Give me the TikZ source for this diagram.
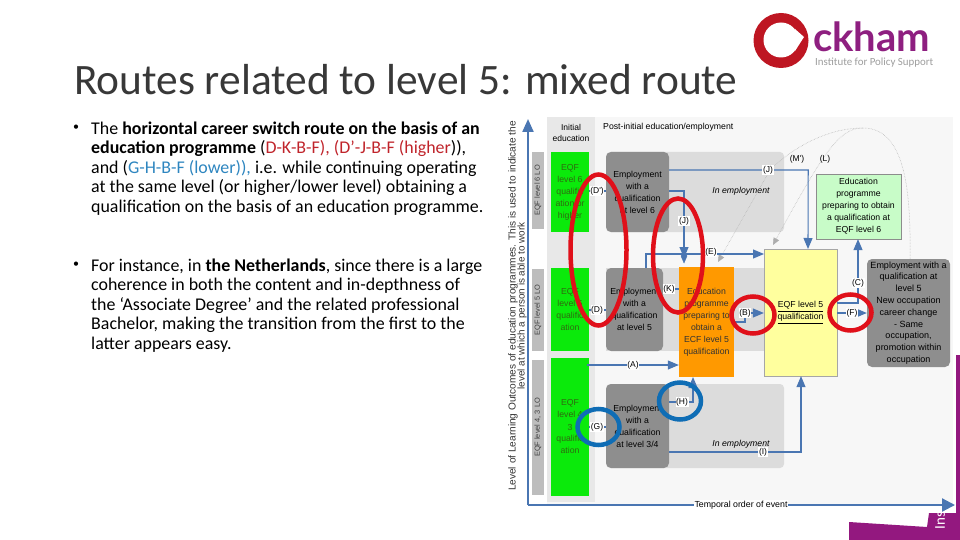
\documentclass[tikz,border=0pt]{standalone}
\usepackage{fontspec}
\setmainfont{Carlito}
\newfontfamily\dgfont{Liberation Sans}
\newfontfamily\logofont{Lato}
\usetikzlibrary{arrows.meta}
\definecolor{axisblue}{HTML}{4A76B2}
\definecolor{bandgrey}{HTML}{DCDCDC}
\definecolor{boxgrey}{HTML}{8E8E8E}
\definecolor{colgrey}{HTML}{E8E8E8}
\definecolor{lblgrey}{HTML}{BDBDBD}
\definecolor{eqfgreen}{HTML}{0BEA0B}
\definecolor{eqftext}{HTML}{2F6A10}
\definecolor{paleyellow}{HTML}{FFFF9E}
\definecolor{palegreen}{HTML}{C8FCC8}
\definecolor{progorange}{HTML}{FF9900}
\definecolor{routered}{HTML}{E0101A}
\definecolor{routeblue}{HTML}{0F6DB5}
\definecolor{txtred}{HTML}{C0242B}
\definecolor{txtblue}{HTML}{2E86C0}
\definecolor{ockred}{HTML}{BE1622}
\definecolor{ockpurple}{HTML}{8E1F80}
\definecolor{slidepurple}{HTML}{93187F}
\tikzset{
  boxbase/.style={inner sep=0pt,align=center,font=\dgfont\fontsize{8.7}{12}\selectfont},
  bandbox/.style={boxbase,fill=bandgrey,rounded corners=4pt},
  empbox/.style={boxbase,fill=boxgrey,rounded corners=5pt,text=black},
  eqfbox/.style={boxbase,fill=eqfgreen,text=eqftext,minimum width=38pt},
  lvlbox/.style={boxbase,fill=lblgrey,minimum width=12pt,text=black!75,font=\dgfont\fontsize{7.4}{8}\selectfont},
  conn/.style={draw=axisblue,line width=1.1pt,-{Triangle[length=11pt,width=9pt]}},
  plain/.style={draw=axisblue,line width=1.1pt},
  dotconn/.style={draw=black!32,densely dotted,line width=.5pt},
  lab/.style={fill=white,inner sep=.6pt,font=\dgfont\fontsize{8.5}{9}\selectfont},
  ring/.style={line width=4.5pt},
  body/.style={anchor=north west,inner sep=0pt,align=left,font=\fontsize{17.9}{19.55}\selectfont},
  bullet/.style={inner sep=0pt,font=\fontsize{12}{12}\selectfont}
}
\begin{document}
\begin{tikzpicture}[x=1pt,y=-1pt]
\useasboundingbox[fill=white] (0,0) rectangle (960,540);
% slide furniture
\fill[slidepurple] (956,355) -- (960,355) -- (960,540) -- (849,540) -- (849,522) -- (927,527) -- (929,513) -- (956,513) -- cycle;
\node[rotate=90,text=white,inner sep=0pt,font=\fontsize{15}{15}\selectfont] (ins) at (940,520.5) {Ins};
% title and text
\node[anchor=west,inner sep=0pt,font=\fontsize{43.4}{45}\selectfont,text=black!78] (title) at (74,80) {Routes related to level 5: mixed route};
\node[bullet] (b1) at (76,128) {•};
\node[body] (p1) at (91,121.5) {The \textbf{horizontal career switch route on the basis of an}\\
\textbf{education programme} ({\color{txtred}D-K-B-F), (D’-J-B-F (higher}{\color{black})),}\\
and ({\color{txtblue}G-H-B-F (lower)),} i.e. while continuing operating\\
at the same level (or higher/lower level) obtaining a\\
qualification on the basis of an education programme.};
\node[bullet] (b2) at (76,265) {•};
\node[body] (p2) at (91,258.5) {For instance, in \textbf{the Netherlands}, since there is a large\\
coherence in both the content and in-depthness of\\
the ‘Associate Degree’ and the related professional\\
Bachelor, making the transition from the first to the\\
latter appears easy.};
% logo
\fill[ockred] (781,40.5) circle [radius=27.5];
\fill[white] (781,40) circle [radius=17.5];
\fill[white] (804,37) -- (795,29) -- (795,51) -- cycle;
\node[anchor=base west,inner sep=0pt,text=ockpurple,font=\logofont\bfseries\fontsize{40}{40}\selectfont] (ckham) at (813,52) {ckham};
\node[anchor=base west,inner sep=0pt,text=black!38,font=\fontsize{10.9}{12}\selectfont] (ips) at (815,65.5) {Institute for Policy Support};
% diagram backgrounds
\fill[black!3] (547,117) rectangle (953,505);
\node[fill=colgrey,minimum width=48pt,minimum height=385pt,inner sep=0pt] (initcol) at (571,309.5) {};
\node[inner sep=0pt,align=center,font=\dgfont\fontsize{8.5}{11.5}\selectfont] (inittxt) at (571,133) {Initial\\education};
\node[anchor=west,inner sep=0pt,font=\dgfont\fontsize{8.7}{9}\selectfont] (posttxt) at (603,127) {Post-initial education/employment};
\node[bandbox,minimum width=178pt,minimum height=80pt] (band6) at (695,192) {};
\node[bandbox,rounded corners=0pt,minimum width=158pt,minimum height=83pt] (band5) at (685,309) {};
\node[bandbox,minimum width=178pt,minimum height=84pt] (band4) at (695,426) {};
% level labels
\node[lvlbox,minimum height=77pt] (l6) at (538,190.5) {\rotatebox{90}{EQF level 6 LO}};
\node[lvlbox,minimum height=82pt] (l5) at (538,310) {\rotatebox{90}{EQF level 5 LO}};
\node[lvlbox,minimum height=135pt] (l4) at (538,427.5) {\rotatebox{90}{EQF level 4, 3 LO}};
% green boxes
\node[eqfbox,minimum height=80pt] (g6) at (570,192) {EQF\\level 6\\qualific\\ation or\\higher};
\node[eqfbox,minimum height=83pt] (g5) at (570,309.5) {EQF\\level 5\\qualific\\ation};
\node[eqfbox,minimum height=138pt] (g4) at (570,427) {EQF\\level 4\\3\\qualific\\ation};
% employment boxes
\node[empbox,minimum width=63pt,minimum height=80pt] (e6) at (637.5,192) {Employment\\with a\\qualification\\at level 6};
\node[empbox,minimum width=57pt,minimum height=83pt] (e5) at (634.5,309.5) {Employment\\with a\\qualification\\at level 5};
\node[empbox,minimum width=63pt,minimum height=84pt] (e4) at (637.5,426) {Employment\\with a\\qualification\\at level 3/4};
\node[boxbase,fill=progorange,minimum width=55pt,minimum height=110pt,text=black!80] (prog) at (706.5,322) {Education\\programme\\preparing to\\obtain a\\ECF level 5\\qualification};
\node[boxbase,fill=paleyellow,draw=black!35,line width=.3pt,minimum width=73pt,minimum height=127pt] (yel) at (800.5,312.5) {\underline{EQF level 5}\\\underline{qualification}};
\node[boxbase,fill=palegreen,draw=black!45,line width=.3pt,minimum width=85pt,minimum height=65pt] (edu6) at (858.5,206.5) {Education\\programme\\preparing to obtain\\a qualification at\\EQF level 6};
\node[empbox,minimum width=83pt,minimum height=108pt,font=\dgfont\fontsize{9}{11.8}\selectfont] (e5r) at (908.5,313) {Employment with a\\qualification at\\level 5\\New occupation\\career change\\- Same\\occupation,\\promotion within\\occupation};
\node[inner sep=0pt,font=\dgfont\itshape\fontsize{8.7}{9}\selectfont] (inemp1) at (741,191) {In employment};
\node[inner sep=0pt,font=\dgfont\itshape\fontsize{8.7}{9}\selectfont] (inemp2) at (741,444) {In employment};
% dotted routes
\coordinate (dtop) at (863,128);
\draw[dotconn,-{Triangle[length=7pt,width=6pt]}] ([xshift=1.5pt]e5r.north) .. controls (911,190) and (905,128) .. (dtop) .. controls (825,128) and (790,150) .. (770,170) -- (718,262);
\draw[dotconn] (dtop) .. controls (840,128) and (825,150) .. (780,232);
\draw[dotconn,-{Triangle[length=7pt,width=6pt]}] (780,232) -- (773,245);
% connectors
\draw[conn] ([yshift=22pt]e6.east) -- ++(139,0) -- (808,249);
\draw[conn] ([yshift=1pt]e6.east) -- (684,191) -- (684,258);
\draw[draw=axisblue,fill=axisblue] (684,250) -- (681,256) -- (684,263) -- (687,256) -- cycle;
\draw[conn] (646,268) -- (646,254) -- (764,254);
\draw[plain] (e5.east |- 0,289) -- (prog.west |- 0,289);
\draw[plain] (g6.east |- 0,191) -- (e6.west |- 0,191);
\draw[plain] (g5.east |- 0,310) -- (e5.west |- 0,310);
\draw[plain] (g4.east |- 0,427) -- (e4.west |- 0,427);
\draw[conn] (587,365) -- (prog.west |- 0,365);
\draw[conn] (e4.east |- 0,402) -- (693,402) -- (693,377);
\draw[conn] (e4.east |- 0,452) -- (801,452) -- (yel.south -| 801,0);
\draw[conn] (prog.east |- 0,322) -- (745,322) -- (745,313) -- (yel.west |- 0,313);
\draw[conn] (yel.east |- 0,303) -- (858,303) -- (edu6.south -| 858,0);
\draw[conn] (yel.east |- 0,313) -- (e5r.west |- 0,313);
% axes
\draw[draw=axisblue,line width=2.2pt,-{Triangle[length=13pt,width=11pt]}] (528,505) -- (528,119);
\draw[draw=axisblue,line width=2.2pt,-{Triangle[length=13pt,width=13pt]}] (528,505) -- (955,505);
\node[fill=white,inner sep=1pt,font=\dgfont\fontsize{8.8}{9}\selectfont] (tlab) at (741,505) {Temporal order of event};
\node[rotate=90,inner sep=0pt,font=\dgfont\fontsize{10.1}{10}\selectfont,text=black!80] (yl1) at (513,306) {Level of Learning Outcomes of education programmes. This is used to indicate the};
\node[rotate=90,inner sep=0pt,font=\dgfont\fontsize{9.9}{10}\selectfont,text=black!80] (yl2) at (522,306) {level at which a person is able to work};
% labels
\node[lab] (lJ1) at (768,170) {(J)};
\node[lab] (lJ2) at (684,221) {(J)};
\node[lab] (lE) at (711,252) {(E)};
\node[lab] (lK) at (669,289) {(K)};
\node[lab] (lD1) at (597,191) {(D')};
\node[lab] (lD) at (597,310) {(D)};
\node[lab] (lG) at (597,427) {(G)};
\node[lab] (lA) at (633,365) {(A)};
\node[lab] (lH) at (682,402) {(H)};
\node[lab] (lI) at (763,452) {(I)};
\node[lab] (lB) at (745,313) {(B)};
\node[lab] (lF) at (852,313) {(F)};
\node[lab] (lC) at (858,283) {(C)};
\node[lab,fill=none] (lM) at (797,159) {(M')};
\node[lab,fill=none] (lL) at (825,159) {(L)};
% route marks
\draw[routered,ring] (598.5,250) ellipse [x radius=28,y radius=75.5];
\draw[routered,ring] (678,255.5) ellipse [x radius=25,y radius=57];
\draw[routered,ring] (753,315) ellipse [x radius=21.5,y radius=18.5];
\draw[routered,ring] (850.5,312.5) ellipse [x radius=21,y radius=18];
\draw[routeblue,ring] (598.5,427) ellipse [x radius=21,y radius=18];
\draw[routeblue,ring] (680,401) ellipse [x radius=21,y radius=18.5];
\end{tikzpicture}
\end{document}
